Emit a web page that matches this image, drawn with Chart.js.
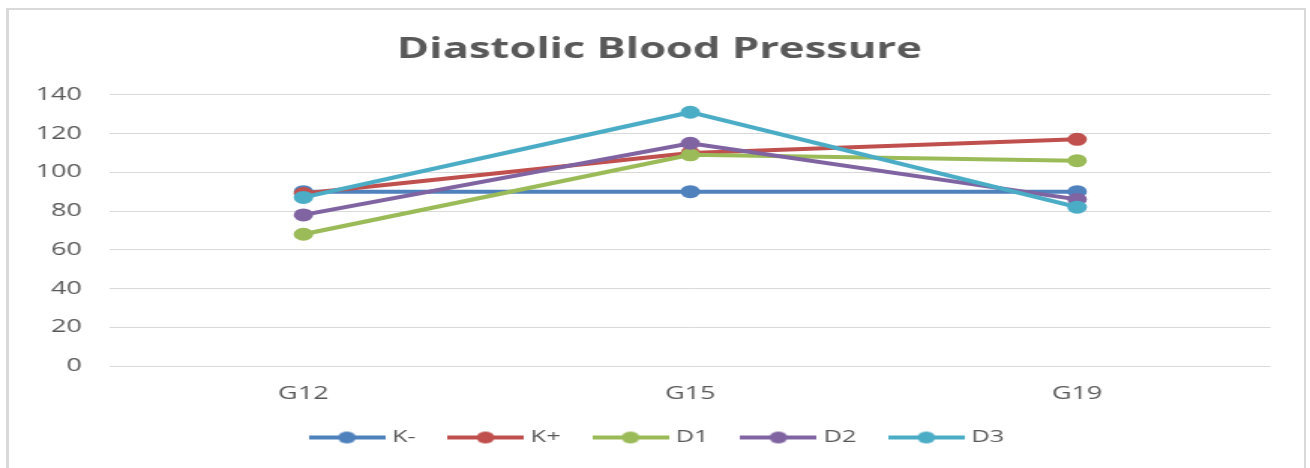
<!DOCTYPE html>
<html>
<head>
<meta charset="utf-8">
<title>Diastolic Blood Pressure</title>
<script src="https://cdn.jsdelivr.net/npm/chart.js@4/dist/chart.umd.min.js"></script>
<style>
  body { margin: 0; background: #fff; }
  #wrap { position: relative; width: 1310px; height: 468px; overflow: hidden; }
  #chart { position: absolute; left: 0; top: 0; }
  #frame {
    position: absolute; left: 6px; top: 8px; width: 1300px; height: 480px;
    border: 2px solid #d9d9d9; border-left-width: 3px; box-sizing: border-box;
    pointer-events: none;
  }
</style>
</head>
<body>
<div id="wrap">
  <!-- the reference is stretched sideways, so draw narrow and scale the canvas -->
  <canvas id="chart" width="873" height="468" style="width:1310px;height:468px"></canvas>
  <div id="frame"></div>
</div>
<script>
const categories = ['G12', 'G15', 'G19'];
const seriesNames = ['K-', 'K+', 'D1', 'D2', 'D3'];
const kMinus = [90, 90, 90];
const kPlus = [89, 110, 117];
const d1 = [68, 109, 106];
const d2 = [78, 115, 86];
const d3 = [87, 131, 82];
const yMin = 0, yMax = 140, yStep = 20;

const seriesValues = [kMinus, kPlus, d1, d2, d3];
const colors = ['#4F81BD', '#C0504D', '#9BBB59', '#8064A2', '#4BACC6'];
const textColor = '#595959';

// legend marker: line with a dot, like Excel
function legendIcon(color) {
  const c = document.createElement('canvas');
  c.width = 51; c.height = 14;
  const g = c.getContext('2d');
  g.strokeStyle = color;
  g.lineWidth = 4;
  g.beginPath(); g.moveTo(0, 7); g.lineTo(51, 7); g.stroke();
  g.fillStyle = color;
  g.beginPath(); g.arc(25.5, 7, 6, 0, Math.PI * 2); g.fill();
  return c;
}
const icons = colors.map(legendIcon);

const datasets = seriesNames.map((name, i) => ({
  label: name,
  data: seriesValues[i],
  borderColor: colors[i],
  backgroundColor: colors[i],
  borderWidth: 4,
  pointRadius: 6.5,
  pointBorderWidth: 0,
  pointBackgroundColor: colors[i],
  tension: 0,
  order: seriesNames.length - i   // later series on top
}));

new Chart(document.getElementById('chart'), {
  type: 'line',
  data: { labels: categories, datasets: datasets },
  options: {
    responsive: false,
    animation: false,
    layout: { padding: { left: 10, right: 4, top: 0, bottom: 12 } },
    plugins: {
      title: {
        display: true,
        text: 'Diastolic Blood Pressure',
        color: textColor,
        font: { family: 'Open Sans', size: 29, weight: 'bold' },
        padding: { top: 32, bottom: 28 }
      },
      legend: {
        position: 'bottom',
        labels: {
          usePointStyle: true,
          pointStyleWidth: 43,
          padding: 25,
          color: textColor,
          font: { family: 'Open Sans', size: 17 },
          generateLabels(chart) {
            const items = Chart.defaults.plugins.legend.labels.generateLabels(chart);
            items.forEach(it => { it.pointStyle = icons[it.datasetIndex]; });
            return items.sort((a, b) => a.datasetIndex - b.datasetIndex);
          }
        }
      },
      tooltip: { enabled: false }
    },
    scales: {
      x: {
        offset: true,
        grid: { display: false },
        border: { display: false },
        ticks: { color: textColor, padding: 9, font: { family: 'Open Sans', size: 18 } },
        afterFit(scale) { scale.height = 38; }
      },
      y: {
        min: yMin,
        max: yMax,
        grid: { color: '#d9d9d9', lineWidth: 1, drawTicks: false },
        border: { display: false },
        ticks: { stepSize: yStep, color: textColor, padding: 18.7, font: { family: 'Open Sans', size: 18 } },
        afterFit(scale) { scale.width = 63.3; }
      },
      // empty right-hand spacer so the plot ends where the reference does
      spacer: {
        type: 'linear',
        position: 'right',
        grid: { display: false },
        border: { display: false },
        ticks: { display: false },
        afterFit(scale) { scale.width = 22.3; }
      }
    }
  }
});
</script>
</body>
</html>
